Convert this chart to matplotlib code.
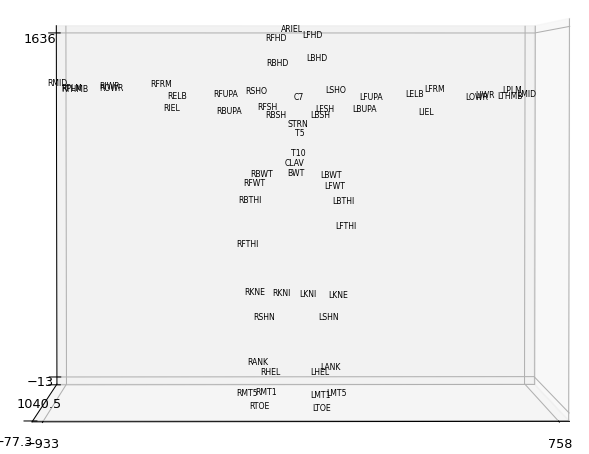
import matplotlib
matplotlib.use("Agg")
import matplotlib.pyplot as plt

names = ["ARIEL", "LFHD", "RFHD", "RBHD", "LBHD", "RFRM", "RELB", "RIEL", "RFUPA", "RSHO",
         "C7", "LSHO", "RBUPA", "RFSH", "RBSH", "LFSH", "LBSH", "STRN", "T5", "LFUPA",
         "LELB", "LFRM", "LBUPA", "LIEL", "T10", "CLAV", "BWT", "RBWT", "RFWT", "LBWT",
         "LFWT", "RBTHI", "LBTHI", "LFTHI", "RFTHI", "RKNE", "RKNI", "LKNI", "LKNE", "RSHN",
         "LSHN", "RMID", "RPLM", "RTHMB", "RIWR", "ROWR", "LOWR", "LIWR", "LPLM", "LTHMB",
         "LMID", "RANK", "LANK", "RHEL", "LHEL", "RMT5", "RMT1", "LMT1", "LMT5", "RTOE", "LTOE"]
xs = [-147, -72, -202, -199, -61, -601, -544, -557, -382, -272,
      -104, 8, -372, -231, -201, -28, -44, -126, -97, 125,
      285, 351, 102, 331, -114, -134, -124, -254, -280, -11,
      5, -297, 30, 42, -303, -276, -176, -83, 19, -245,
      -16, -940, -890, -890, -762, -762, 473, 506, 597, 582,
      648, -265, -18, -221, -50, -301, -237, -54, 0, -256, -48]
ys = [482] * 41 + [202] * 10 + [146, 146, 202, 202, 35, 35, 35, 35, -21, -21]
zs = [1628, 1600, 1584, 1471, 1494, 1378, 1325, 1267, 1333, 1348,
      1320, 1352, 1257, 1272, 1237, 1264, 1237, 1197, 1156, 1319,
      1331, 1354, 1263, 1253, 1064, 1021, 976, 972, 931, 966,
      916, 855, 848, 735, 655, 436, 431, 427, 422, 325,
      322, 1383, 1360, 1356, 1371, 1358, 1320, 1331, 1352, 1324,
      1335, 161, 142, 110, 113, 43, 46, 33, 41, -5, -12]

x_ticks = [-933, 758]
y_ticks = [-77.3, 1040.5]
z_ticks = [-13, 1636]
x_tick_labels = ["\u2212933", "758"]
y_tick_labels = ["\u221277.3", "1040.5"]
z_tick_labels = ["\u221213", "1636"]

W, H = 589, 454
side = 786.6
cx, cy = 287.5, 231.2  # square centre in pixels from bottom-left
fig = plt.figure(figsize=(W / 93, H / 93), dpi=93)
ax = fig.add_axes([(cx - side / 2) / W, (cy - side / 2) / H, side / W, side / H],
                  projection="3d")
ax.view_init(elev=1.7, azim=-90.6)

for n, x, y, z in zip(names, xs, ys, zs):
    ax.text(x, y, z, n, fontsize=6)


def padded(lims):
    d = (lims[1] - lims[0]) / 48
    return lims[0] - d, lims[1] + d


ax.set_xlim(*padded(x_ticks))
ax.set_ylim(*padded(y_ticks))
ax.set_zlim(*padded(z_ticks))
ax.set_xticks(x_ticks, labels=x_tick_labels)
ax.set_yticks(y_ticks, labels=y_tick_labels)
ax.set_zticks(z_ticks, labels=z_tick_labels)

fig.savefig("out.png", dpi=93)
